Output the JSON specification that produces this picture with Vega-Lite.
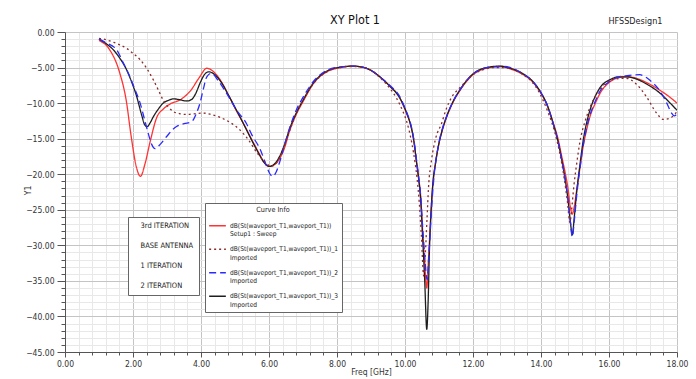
{
"$schema": "https://vega.github.io/schema/vega-lite/v6.json",
"width": 612, "height": 320,
"autosize": {"type": "none"},
"padding": {"left": 65, "top": 32, "right": 19, "bottom": 27},
"background": "white",
"title": {"text": "XY Plot 1", "fontSize": 12.5, "fontWeight": "normal", "font": "Liberation Sans Narrow, DejaVu Sans Condensed, Liberation Sans", "color": "#111", "offset": 8, "dx": -16, "dy": 18, "frame": "group", "anchor": "middle"},
"datasets": {
"meta": [
{"s": "r", "name": "3rd ITERATION", "curve": "dB(St(waveport_T1,waveport_T1))|Setup1 : Sweep"},
{"s": "d", "name": "BASE ANTENNA", "curve": "dB(St(waveport_T1,waveport_T1))_1|Imported"},
{"s": "b", "name": "1 ITERATION", "curve": "dB(St(waveport_T1,waveport_T1))_2|Imported"},
{"s": "k", "name": "2 ITERATION", "curve": "dB(St(waveport_T1,waveport_T1))_3|Imported"}
],
"curves": [
{"s":"r","f":1,"db":-1.2},{"s":"r","f":1.3,"db":-2.4},{"s":"r","f":1.6,"db":-5.6},{"s":"r","f":1.8,"db":-9.6},{"s":"r","f":1.95,"db":-14.8},{"s":"r","f":2.1,"db":-19.0},{"s":"r","f":2.22,"db":-20.3},{"s":"r","f":2.35,"db":-18.6},{"s":"r","f":2.5,"db":-15.5},{"s":"r","f":2.7,"db":-12.0},{"s":"r","f":2.9,"db":-10.8},{"s":"r","f":3.1,"db":-10.1},{"s":"r","f":3.4,"db":-9.5},{"s":"r","f":3.7,"db":-8.2},{"s":"r","f":3.95,"db":-6.4},{"s":"r","f":4.17,"db":-5.1},{"s":"r","f":4.35,"db":-5.5},{"s":"r","f":4.6,"db":-7.0},{"s":"r","f":4.8,"db":-8.8},{"s":"r","f":5.0,"db":-10.7},{"s":"r","f":5.25,"db":-12.9},{"s":"r","f":5.5,"db":-15.2},{"s":"r","f":5.7,"db":-17.0},{"s":"r","f":5.85,"db":-18.3},{"s":"r","f":6.0,"db":-18.9},{"s":"r","f":6.15,"db":-18.7},{"s":"r","f":6.3,"db":-17.9},{"s":"r","f":6.45,"db":-16.4},{"s":"r","f":6.6,"db":-14.0},{"s":"r","f":6.8,"db":-11.6},{"s":"r","f":7.0,"db":-9.8},{"s":"r","f":7.3,"db":-7.3},{"s":"r","f":7.7,"db":-5.6},{"s":"r","f":8.1,"db":-5.0},{"s":"r","f":8.45,"db":-4.8},{"s":"r","f":8.8,"db":-5.0},{"s":"r","f":9.0,"db":-5.4},{"s":"r","f":9.26,"db":-6.3},{"s":"r","f":9.55,"db":-7.6},{"s":"r","f":9.85,"db":-9.3},{"s":"r","f":10.05,"db":-11.5},{"s":"r","f":10.15,"db":-12.8},{"s":"r","f":10.25,"db":-15.0},{"s":"r","f":10.34,"db":-18.3},{"s":"r","f":10.4,"db":-20.5},{"s":"r","f":10.46,"db":-23.0},{"s":"r","f":10.52,"db":-28.0},{"s":"r","f":10.58,"db":-32.5},{"s":"r","f":10.64,"db":-36.0},{"s":"r","f":10.69,"db":-32.0},{"s":"r","f":10.74,"db":-27.5},{"s":"r","f":10.8,"db":-22.5},{"s":"r","f":10.88,"db":-19.0},{"s":"r","f":10.98,"db":-16.1},{"s":"r","f":11.1,"db":-13.8},{"s":"r","f":11.23,"db":-11.9},{"s":"r","f":11.4,"db":-10.0},{"s":"r","f":11.62,"db":-8.2},{"s":"r","f":11.8,"db":-7.0},{"s":"r","f":12.0,"db":-6.0},{"s":"r","f":12.2,"db":-5.4},{"s":"r","f":12.4,"db":-5.1},{"s":"r","f":12.8,"db":-4.85},{"s":"r","f":13.1,"db":-5.2},{"s":"r","f":13.48,"db":-6.0},{"s":"r","f":13.75,"db":-7.0},{"s":"r","f":13.97,"db":-8.4},{"s":"r","f":14.2,"db":-10.5},{"s":"r","f":14.36,"db":-12.8},{"s":"r","f":14.5,"db":-15.0},{"s":"r","f":14.61,"db":-17.5},{"s":"r","f":14.72,"db":-20.0},{"s":"r","f":14.8,"db":-22.2},{"s":"r","f":14.86,"db":-24.5},{"s":"r","f":14.92,"db":-25.6},{"s":"r","f":14.98,"db":-24.5},{"s":"r","f":15.05,"db":-22.2},{"s":"r","f":15.15,"db":-19.0},{"s":"r","f":15.24,"db":-16.1},{"s":"r","f":15.34,"db":-13.8},{"s":"r","f":15.44,"db":-11.9},{"s":"r","f":15.6,"db":-10.0},{"s":"r","f":15.74,"db":-8.6},{"s":"r","f":16.03,"db":-7.0},{"s":"r","f":16.3,"db":-6.4},{"s":"r","f":16.55,"db":-6.3},{"s":"r","f":16.8,"db":-6.5},{"s":"r","f":17.1,"db":-7.1},{"s":"r","f":17.5,"db":-8.2},{"s":"r","f":17.8,"db":-9.2},{"s":"r","f":18.0,"db":-10.0},

{"s":"k","f":1,"db":-1.0},{"s":"k","f":1.2,"db":-1.6},{"s":"k","f":1.42,"db":-2.5},{"s":"k","f":1.6,"db":-3.6},{"s":"k","f":1.81,"db":-5.3},{"s":"k","f":1.95,"db":-6.9},{"s":"k","f":2.11,"db":-9.1},{"s":"k","f":2.25,"db":-11.6},{"s":"k","f":2.35,"db":-13.1},{"s":"k","f":2.42,"db":-13.3},{"s":"k","f":2.5,"db":-12.8},{"s":"k","f":2.6,"db":-11.9},{"s":"k","f":2.75,"db":-10.8},{"s":"k","f":2.89,"db":-10.0},{"s":"k","f":3.05,"db":-9.6},{"s":"k","f":3.19,"db":-9.4},{"s":"k","f":3.35,"db":-9.5},{"s":"k","f":3.58,"db":-9.7},{"s":"k","f":3.72,"db":-9.5},{"s":"k","f":3.85,"db":-8.6},{"s":"k","f":3.97,"db":-7.2},{"s":"k","f":4.1,"db":-6.0},{"s":"k","f":4.22,"db":-5.6},{"s":"k","f":4.35,"db":-5.8},{"s":"k","f":4.6,"db":-7.1},{"s":"k","f":4.8,"db":-8.8},{"s":"k","f":5.0,"db":-10.6},{"s":"k","f":5.25,"db":-12.9},{"s":"k","f":5.5,"db":-15.3},{"s":"k","f":5.7,"db":-17.1},{"s":"k","f":5.85,"db":-18.3},{"s":"k","f":6.0,"db":-18.9},{"s":"k","f":6.15,"db":-18.6},{"s":"k","f":6.3,"db":-17.6},{"s":"k","f":6.45,"db":-15.9},{"s":"k","f":6.6,"db":-13.7},{"s":"k","f":6.8,"db":-11.4},{"s":"k","f":7.0,"db":-9.6},{"s":"k","f":7.3,"db":-7.2},{"s":"k","f":7.7,"db":-5.5},{"s":"k","f":8.1,"db":-4.95},{"s":"k","f":8.45,"db":-4.8},{"s":"k","f":8.8,"db":-5.0},{"s":"k","f":9.0,"db":-5.4},{"s":"k","f":9.26,"db":-6.3},{"s":"k","f":9.55,"db":-7.6},{"s":"k","f":9.85,"db":-9.3},{"s":"k","f":10.05,"db":-11.4},{"s":"k","f":10.15,"db":-12.8},{"s":"k","f":10.25,"db":-15.0},{"s":"k","f":10.34,"db":-18.3},{"s":"k","f":10.4,"db":-20.6},{"s":"k","f":10.46,"db":-23.5},{"s":"k","f":10.52,"db":-29.0},{"s":"k","f":10.58,"db":-35.0},{"s":"k","f":10.64,"db":-41.8},{"s":"k","f":10.68,"db":-38.0},{"s":"k","f":10.72,"db":-30.5},{"s":"k","f":10.77,"db":-25.0},{"s":"k","f":10.83,"db":-20.8},{"s":"k","f":10.9,"db":-18.4},{"s":"k","f":10.98,"db":-16.1},{"s":"k","f":11.1,"db":-13.7},{"s":"k","f":11.23,"db":-11.8},{"s":"k","f":11.4,"db":-9.9},{"s":"k","f":11.62,"db":-8.1},{"s":"k","f":11.8,"db":-6.9},{"s":"k","f":12.0,"db":-5.9},{"s":"k","f":12.2,"db":-5.3},{"s":"k","f":12.4,"db":-5.0},{"s":"k","f":12.8,"db":-4.8},{"s":"k","f":13.1,"db":-5.1},{"s":"k","f":13.48,"db":-5.9},{"s":"k","f":13.75,"db":-6.9},{"s":"k","f":13.97,"db":-8.3},{"s":"k","f":14.2,"db":-10.5},{"s":"k","f":14.36,"db":-12.9},{"s":"k","f":14.5,"db":-15.4},{"s":"k","f":14.61,"db":-18.0},{"s":"k","f":14.72,"db":-21.0},{"s":"k","f":14.8,"db":-23.8},{"s":"k","f":14.86,"db":-26.5},{"s":"k","f":14.92,"db":-28.5},{"s":"k","f":14.98,"db":-26.0},{"s":"k","f":15.05,"db":-22.5},{"s":"k","f":15.15,"db":-18.5},{"s":"k","f":15.24,"db":-15.3},{"s":"k","f":15.34,"db":-12.8},{"s":"k","f":15.44,"db":-11.0},{"s":"k","f":15.6,"db":-9.0},{"s":"k","f":15.74,"db":-7.8},{"s":"k","f":16.03,"db":-6.7},{"s":"k","f":16.3,"db":-6.3},{"s":"k","f":16.5,"db":-6.3},{"s":"k","f":16.8,"db":-6.6},{"s":"k","f":17.1,"db":-7.3},{"s":"k","f":17.5,"db":-8.6},{"s":"k","f":17.8,"db":-10.0},{"s":"k","f":18.0,"db":-11.0},

{"s":"b","f":1,"db":-1.0},{"s":"b","f":1.2,"db":-1.5},{"s":"b","f":1.52,"db":-2.5},{"s":"b","f":1.7,"db":-4.2},{"s":"b","f":1.91,"db":-6.3},{"s":"b","f":2.05,"db":-8.0},{"s":"b","f":2.21,"db":-10.0},{"s":"b","f":2.35,"db":-12.5},{"s":"b","f":2.45,"db":-14.3},{"s":"b","f":2.55,"db":-15.8},{"s":"b","f":2.65,"db":-16.4},{"s":"b","f":2.8,"db":-15.8},{"s":"b","f":2.99,"db":-14.7},{"s":"b","f":3.15,"db":-13.8},{"s":"b","f":3.28,"db":-13.3},{"s":"b","f":3.5,"db":-12.9},{"s":"b","f":3.73,"db":-12.6},{"s":"b","f":3.85,"db":-11.6},{"s":"b","f":3.97,"db":-10.0},{"s":"b","f":4.07,"db":-8.0},{"s":"b","f":4.17,"db":-6.3},{"s":"b","f":4.31,"db":-5.8},{"s":"b","f":4.5,"db":-6.8},{"s":"b","f":4.75,"db":-8.6},{"s":"b","f":5.05,"db":-11.0},{"s":"b","f":5.34,"db":-12.9},{"s":"b","f":5.5,"db":-14.5},{"s":"b","f":5.74,"db":-16.5},{"s":"b","f":5.9,"db":-18.5},{"s":"b","f":6.02,"db":-19.9},{"s":"b","f":6.11,"db":-20.3},{"s":"b","f":6.2,"db":-19.8},{"s":"b","f":6.32,"db":-18.2},{"s":"b","f":6.45,"db":-16.0},{"s":"b","f":6.6,"db":-13.6},{"s":"b","f":6.8,"db":-11.0},{"s":"b","f":7.0,"db":-9.2},{"s":"b","f":7.3,"db":-7.0},{"s":"b","f":7.7,"db":-5.4},{"s":"b","f":8.1,"db":-4.9},{"s":"b","f":8.45,"db":-4.8},{"s":"b","f":8.8,"db":-5.0},{"s":"b","f":9.0,"db":-5.4},{"s":"b","f":9.26,"db":-6.3},{"s":"b","f":9.55,"db":-7.5},{"s":"b","f":9.85,"db":-9.1},{"s":"b","f":10.05,"db":-11.3},{"s":"b","f":10.15,"db":-12.6},{"s":"b","f":10.25,"db":-14.8},{"s":"b","f":10.34,"db":-18.0},{"s":"b","f":10.4,"db":-20.3},{"s":"b","f":10.46,"db":-23.0},{"s":"b","f":10.52,"db":-27.5},{"s":"b","f":10.58,"db":-31.5},{"s":"b","f":10.65,"db":-34.8},{"s":"b","f":10.7,"db":-31.5},{"s":"b","f":10.75,"db":-27.5},{"s":"b","f":10.8,"db":-23.5},{"s":"b","f":10.86,"db":-20.0},{"s":"b","f":10.98,"db":-16.0},{"s":"b","f":11.1,"db":-13.6},{"s":"b","f":11.23,"db":-11.8},{"s":"b","f":11.4,"db":-9.9},{"s":"b","f":11.62,"db":-8.1},{"s":"b","f":11.8,"db":-6.9},{"s":"b","f":12.0,"db":-5.9},{"s":"b","f":12.2,"db":-5.3},{"s":"b","f":12.4,"db":-5.0},{"s":"b","f":12.9,"db":-4.85},{"s":"b","f":13.1,"db":-5.0},{"s":"b","f":13.48,"db":-5.9},{"s":"b","f":13.75,"db":-6.9},{"s":"b","f":13.97,"db":-8.3},{"s":"b","f":14.2,"db":-10.5},{"s":"b","f":14.36,"db":-12.9},{"s":"b","f":14.5,"db":-15.4},{"s":"b","f":14.61,"db":-18.0},{"s":"b","f":14.72,"db":-21.0},{"s":"b","f":14.8,"db":-23.8},{"s":"b","f":14.86,"db":-26.5},{"s":"b","f":14.92,"db":-28.8},{"s":"b","f":14.98,"db":-26.5},{"s":"b","f":15.05,"db":-23.0},{"s":"b","f":15.15,"db":-19.0},{"s":"b","f":15.24,"db":-16.0},{"s":"b","f":15.34,"db":-13.5},{"s":"b","f":15.44,"db":-11.7},{"s":"b","f":15.6,"db":-9.7},{"s":"b","f":15.74,"db":-8.3},{"s":"b","f":16.03,"db":-6.9},{"s":"b","f":16.3,"db":-6.3},{"s":"b","f":16.6,"db":-6.1},{"s":"b","f":16.9,"db":-6.0},{"s":"b","f":17.1,"db":-6.4},{"s":"b","f":17.3,"db":-7.2},{"s":"b","f":17.5,"db":-8.3},{"s":"b","f":17.7,"db":-10.0},{"s":"b","f":17.84,"db":-11.4},{"s":"b","f":17.92,"db":-11.8},{"s":"b","f":18.0,"db":-11.5},

{"s":"d","f":1,"db":-0.9},{"s":"d","f":1.13,"db":-1.0},{"s":"d","f":1.4,"db":-1.4},{"s":"d","f":1.81,"db":-2.3},{"s":"d","f":2.0,"db":-3.0},{"s":"d","f":2.21,"db":-3.9},{"s":"d","f":2.4,"db":-5.1},{"s":"d","f":2.6,"db":-6.75},{"s":"d","f":2.75,"db":-8.2},{"s":"d","f":2.89,"db":-9.6},{"s":"d","f":3.05,"db":-10.6},{"s":"d","f":3.19,"db":-11.2},{"s":"d","f":3.4,"db":-11.5},{"s":"d","f":3.58,"db":-11.6},{"s":"d","f":3.8,"db":-11.5},{"s":"d","f":4.07,"db":-11.4},{"s":"d","f":4.3,"db":-11.6},{"s":"d","f":4.56,"db":-12.0},{"s":"d","f":4.85,"db":-12.7},{"s":"d","f":5.15,"db":-13.8},{"s":"d","f":5.4,"db":-15.2},{"s":"d","f":5.65,"db":-17.0},{"s":"d","f":5.93,"db":-18.5},{"s":"d","f":6.05,"db":-18.9},{"s":"d","f":6.2,"db":-18.5},{"s":"d","f":6.35,"db":-17.3},{"s":"d","f":6.5,"db":-15.4},{"s":"d","f":6.65,"db":-13.3},{"s":"d","f":6.85,"db":-11.0},{"s":"d","f":7.05,"db":-9.2},{"s":"d","f":7.3,"db":-7.3},{"s":"d","f":7.7,"db":-5.6},{"s":"d","f":8.1,"db":-5.0},{"s":"d","f":8.45,"db":-4.85},{"s":"d","f":8.8,"db":-5.0},{"s":"d","f":9.0,"db":-5.4},{"s":"d","f":9.26,"db":-6.4},{"s":"d","f":9.5,"db":-7.6},{"s":"d","f":9.75,"db":-9.3},{"s":"d","f":9.95,"db":-11.3},{"s":"d","f":10.05,"db":-12.6},{"s":"d","f":10.2,"db":-15.6},{"s":"d","f":10.3,"db":-18.5},{"s":"d","f":10.36,"db":-20.8},{"s":"d","f":10.42,"db":-24.0},{"s":"d","f":10.48,"db":-28.5},{"s":"d","f":10.55,"db":-34.3},{"s":"d","f":10.6,"db":-31.0},{"s":"d","f":10.65,"db":-26.0},{"s":"d","f":10.69,"db":-22.0},{"s":"d","f":10.78,"db":-18.0},{"s":"d","f":10.9,"db":-15.0},{"s":"d","f":11.08,"db":-12.8},{"s":"d","f":11.2,"db":-11.0},{"s":"d","f":11.37,"db":-9.2},{"s":"d","f":11.6,"db":-7.9},{"s":"d","f":11.8,"db":-6.9},{"s":"d","f":12.0,"db":-6.0},{"s":"d","f":12.3,"db":-5.3},{"s":"d","f":12.6,"db":-5.0},{"s":"d","f":12.9,"db":-5.0},{"s":"d","f":13.2,"db":-5.3},{"s":"d","f":13.5,"db":-6.1},{"s":"d","f":13.75,"db":-7.1},{"s":"d","f":13.97,"db":-8.7},{"s":"d","f":14.2,"db":-11.2},{"s":"d","f":14.4,"db":-14.0},{"s":"d","f":14.55,"db":-17.0},{"s":"d","f":14.68,"db":-20.5},{"s":"d","f":14.78,"db":-24.0},{"s":"d","f":14.85,"db":-26.8},{"s":"d","f":14.9,"db":-25.0},{"s":"d","f":14.97,"db":-21.5},{"s":"d","f":15.05,"db":-18.5},{"s":"d","f":15.15,"db":-15.3},{"s":"d","f":15.3,"db":-12.5},{"s":"d","f":15.45,"db":-10.5},{"s":"d","f":15.65,"db":-8.6},{"s":"d","f":15.85,"db":-7.4},{"s":"d","f":16.1,"db":-6.7},{"s":"d","f":16.5,"db":-6.5},{"s":"d","f":16.8,"db":-7.3},{"s":"d","f":17.1,"db":-9.1},{"s":"d","f":17.4,"db":-11.4},{"s":"d","f":17.6,"db":-12.3},{"s":"d","f":17.8,"db":-12.1},{"s":"d","f":18.0,"db":-11.2}
]
},
"data": {"name": "curves"},
"layer": [
{
"transform": [{"lookup": "s", "from": {"data": {"name": "meta"}, "key": "s", "fields": ["name", "curve"]}}],
"mark": {"type": "line", "interpolate": "monotone", "clip": true},
"encoding": {
"x": {"field": "f", "type": "quantitative", "scale": {"domain": [0, 18], "nice": false, "zero": false},
"axis": {"title": "Freq [GHz]", "values": [0,0.4,0.8,1.2,1.6,2,2.4,2.8,3.2,3.6,4,4.4,4.8,5.2,5.6,6,6.4,6.8,7.2,7.6,8,8.4,8.8,9.2,9.6,10,10.4,10.8,11.2,11.6,12,12.4,12.8,13.2,13.6,14,14.4,14.8,15.2,15.6,16,16.4,16.8,17.2,17.6,18],
"labelExpr": "abs(datum.value/2 - round(datum.value/2)) < 0.001 ? format(datum.value, '.2f') : ''",
"gridColor": {"condition": {"test": "abs(datum.value/2 - round(datum.value/2)) < 0.001", "value": "#c4c4c4"}, "value": "#e8e8e8"},
"tickSize": {"condition": {"test": "abs(datum.value/2 - round(datum.value/2)) < 0.001", "value": 5}, "value": 3},
"labelPadding": 2, "titlePadding": 0, "labelFlush": false, "labelOverlap": false, "labelBound": false}},
"y": {"field": "db", "type": "quantitative", "scale": {"domain": [-45, 0], "nice": false, "zero": false},
"axis": {"title": "Y1", "values": [-45,-44,-43,-42,-41,-40,-39,-38,-37,-36,-35,-34,-33,-32,-31,-30,-29,-28,-27,-26,-25,-24,-23,-22,-21,-20,-19,-18,-17,-16,-15,-14,-13,-12,-11,-10,-9,-8,-7,-6,-5,-4,-3,-2,-1,0],
"labelExpr": "abs(datum.value/5 - round(datum.value/5)) < 0.001 ? format(datum.value, '.2f') : ''",
"gridColor": {"condition": {"test": "abs(datum.value/5 - round(datum.value/5)) < 0.001", "value": "#c4c4c4"}, "value": "#e8e8e8"},
"tickSize": {"condition": {"test": "abs(datum.value/5 - round(datum.value/5)) < 0.001", "value": 8}, "value": 4},
"labelPadding": 3, "labelFlush": false, "labelOverlap": false, "labelBound": false,
"titleX": -38, "titleY": 158, "titleAlign": "center", "titleBaseline": "middle", "titleAngle": 270}},
"color": {"field": "curve", "type": "nominal",
"scale": {"domain": ["dB(St(waveport_T1,waveport_T1))|Setup1 : Sweep", "dB(St(waveport_T1,waveport_T1))_1|Imported", "dB(St(waveport_T1,waveport_T1))_2|Imported", "dB(St(waveport_T1,waveport_T1))_3|Imported"], "range": ["#ff3333", "#8a2a2a", "#2a2aff", "#1e1e1e"]},
"legend": {"title": "Curve Info", "orient": "none", "legendX": 140, "legendY": 171, "fillColor": "white", "strokeColor": "#666", "padding": 3, "titleFontSize": 7.2, "titleFontWeight": "normal", "titleAnchor": "middle", "titlePadding": 3, "labelFontSize": 6.6, "labelLimit": 300, "labelExpr": "split(datum.label, '|')", "symbolType": "stroke", "symbolSize": 280, "symbolStrokeWidth": 1.6, "rowPadding": 1.5, "labelOffset": 3}},
"strokeDash": {"field": "curve", "type": "nominal",
"scale": {"domain": ["dB(St(waveport_T1,waveport_T1))|Setup1 : Sweep", "dB(St(waveport_T1,waveport_T1))_1|Imported", "dB(St(waveport_T1,waveport_T1))_2|Imported", "dB(St(waveport_T1,waveport_T1))_3|Imported"], "range": [[1, 0], [2, 3], [7, 4], [1, 0]]},
"legend": {"title": "Curve Info", "orient": "none", "legendX": 140, "legendY": 171, "fillColor": "white", "strokeColor": "#666", "padding": 3, "titleFontSize": 7.2, "titleFontWeight": "normal", "titleAnchor": "middle", "titlePadding": 3, "labelFontSize": 6.6, "labelLimit": 300, "labelExpr": "split(datum.label, '|')", "symbolType": "stroke", "symbolSize": 280, "symbolStrokeWidth": 1.6, "rowPadding": 1.5, "labelOffset": 3}},
"strokeWidth": {"field": "name", "type": "ordinal",
"scale": {"domain": ["3rd ITERATION", "BASE ANTENNA", "1 ITERATION", "2 ITERATION"], "range": [1.3, 1.3]},
"legend": {"title": null, "orient": "none", "legendX": 63, "legendY": 185, "fillColor": "white", "strokeColor": "#666", "padding": 5, "labelFontSize": 7.5, "symbolOpacity": 0, "symbolStrokeWidth": 0, "symbolSize": 1, "labelOffset": 0, "rowPadding": 11}}
}
},
{
"mark": {"type": "point", "opacity": 0},
"encoding": {
"x": {"field": "f", "type": "quantitative",
"axis": {"orient": "top", "title": "HFSSDesign1", "domain": false, "ticks": false, "labels": false, "grid": false, "titleX": 597, "titleY": -12, "titleAlign": "right", "titleBaseline": "middle", "titleFontSize": 9, "titleFontWeight": "normal", "titleColor": "#222"}}
}
}
],
"resolve": {"axis": {"x": "independent"}},
"config": {
"font": "Liberation Sans Narrow, DejaVu Sans Condensed, Liberation Sans",
"view": {"stroke": null},
"axis": {"labelFont": "Liberation Sans Narrow, DejaVu Sans Condensed, Liberation Sans", "labelFontSize": 8.5, "labelColor": "#333", "titleFont": "Liberation Sans Narrow, DejaVu Sans Condensed, Liberation Sans", "titleFontSize": 8.5, "titleFontWeight": "normal", "titleColor": "#333", "domainColor": "#555", "tickColor": "#555", "gridWidth": 1},
"legend": {"labelFont": "Liberation Sans Narrow, DejaVu Sans Condensed, Liberation Sans", "titleFont": "Liberation Sans Narrow, DejaVu Sans Condensed, Liberation Sans", "labelColor": "#222", "titleColor": "#222"}
}
}
